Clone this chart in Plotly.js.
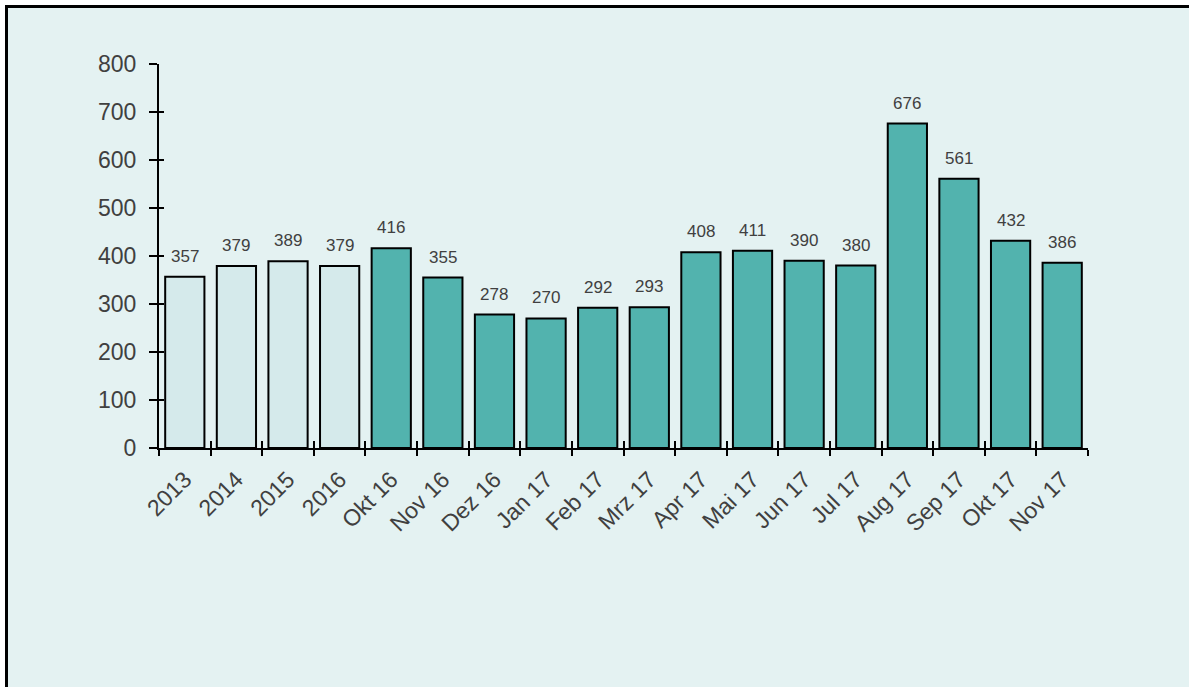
<!DOCTYPE html>
<html>
<head>
<meta charset="utf-8">
<script src="https://cdn.plot.ly/plotly-3.0.1.min.js"></script>
<style>
  html, body { margin: 0; padding: 0; background: #ffffff; overflow: hidden; }
  #frame { position: absolute; left: 5px; top: 5px; width: 1184px; height: 682px;
           border-top: 3px solid #000; border-left: 3px solid #000; background: #e4f2f2; }
  #chart { width: 1181px; height: 679px; }
</style>
</head>
<body>
<div id="frame"><div id="chart"></div></div>
<script>
const categories = ["2013","2014","2015","2016","Okt 16","Nov 16","Dez 16","Jan 17","Feb 17","Mrz 17","Apr 17","Mai 17","Jun 17","Jul 17","Aug 17","Sep 17","Okt 17","Nov 17"];
const values = [357,379,389,379,416,355,278,270,292,293,408,411,390,380,676,561,432,386];
const yearly = [true,true,true,true,false,false,false,false,false,false,false,false,false,false,false,false,false,false];
const yTicks = [0,100,200,300,400,500,600,700,800];

const lightColor = "#d5eaeb";
const tealColor = "#52b3ae";
const textColor = "#404040";
const fontFam = "Liberation Sans, Arial, sans-serif";

const trace = {
  type: "bar",
  x: categories,
  y: values,
  marker: { color: yearly.map(v => v ? lightColor : tealColor), line: { color: "#000", width: 2 } },
  hoverinfo: "none"
};
// invisible trace on overlay axes, used only to draw the inner halves of the ticks
const ghost = { type: "bar", x: categories, y: values.map(() => 0), xaxis: "x2", yaxis: "y2",
  marker: { color: "rgba(0,0,0,0)", line: { width: 0 } }, hoverinfo: "none", showlegend: false };

const annotations = categories.map((c, i) => ({
  x: i, y: values[i], xref: "x", yref: "y", text: String(values[i]),
  showarrow: false, yanchor: "bottom", yshift: 9,
  font: { family: fontFam, size: 17, color: textColor }
}));

const catAxisCommon = {
  type: "category", categoryorder: "array", categoryarray: categories,
  range: [-0.5, categories.length - 0.5], tickson: "boundaries", tickwidth: 2, tickcolor: "#000",
  showgrid: false, zeroline: false, fixedrange: true
};

const layout = {
  width: 1181, height: 679,
  paper_bgcolor: "rgba(0,0,0,0)", plot_bgcolor: "rgba(0,0,0,0)",
  margin: { l: 151, r: 101, t: 56, b: 239, pad: 0 },
  showlegend: false,
  bargap: 0.24,
  font: { family: fontFam, color: textColor },
  xaxis: Object.assign({}, catAxisCommon, {
    ticks: "outside", ticklen: 6, showline: true, linecolor: "#000", linewidth: 2,
    tickangle: -45, tickfont: { family: fontFam, size: 23, color: textColor }, ticklabelstandoff: 7
  }),
  xaxis2: Object.assign({}, catAxisCommon, {
    overlaying: "x", side: "bottom", ticks: "inside", ticklen: 7, showticklabels: false, showline: false
  }),
  yaxis: {
    range: [0, 800], tickvals: yTicks, ticks: "outside", ticklen: 8, tickwidth: 2, tickcolor: "#000",
    showline: true, linecolor: "#000", linewidth: 2, showgrid: false, zeroline: false,
    tickfont: { family: fontFam, size: 23, color: textColor }, ticklabelstandoff: 8, fixedrange: true
  },
  yaxis2: {
    range: [0, 800], overlaying: "y", side: "left", tickvals: yTicks, ticks: "inside", ticklen: 5, tickwidth: 2, tickcolor: "#000",
    showticklabels: false, showline: false, showgrid: false, zeroline: false, fixedrange: true
  },
  annotations: annotations
};

Plotly.newPlot("chart", [trace, ghost], layout, { displayModeBar: false, staticPlot: true });
</script>
</body>
</html>
